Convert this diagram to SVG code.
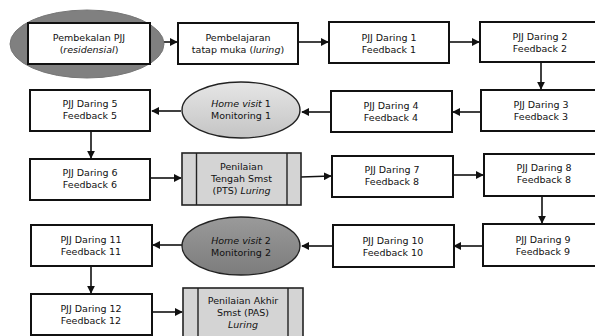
<svg xmlns="http://www.w3.org/2000/svg" width="595" height="336" viewBox="0 0 595 336">
<defs>
<style>
.box{fill:#fff;stroke:#111;stroke-width:2}
.pre{fill:#d4d4d4;stroke:#222;stroke-width:1.6}
.t{font-family:"DejaVu Sans",Verdana,sans-serif;font-size:9.5px;fill:#111;text-anchor:middle}
.i{font-style:italic}
.c{stroke:#111;stroke-width:1.6;fill:none;marker-end:url(#ah)}
</style>
<marker id="ah" viewBox="0 0 10 10" refX="9" refY="5" markerWidth="5" markerHeight="5" orient="auto" markerUnits="strokeWidth">
<path d="M0,0 L10,5 L0,10 z" fill="#111"/>
</marker>
<linearGradient id="g1" x1="0" y1="0" x2="0" y2="1">
<stop offset="0" stop-color="#e6e6e6"/><stop offset="1" stop-color="#c4c4c4"/>
</linearGradient>
<linearGradient id="g2" x1="0" y1="0" x2="0" y2="1">
<stop offset="0" stop-color="#9a9a9a"/><stop offset="1" stop-color="#7c7c7c"/>
</linearGradient>
</defs>

<g id="connectors">
<line class="c" x1="150" y1="42" x2="177" y2="42"/>
<line class="c" x1="298" y1="42" x2="328" y2="42"/>
<line class="c" x1="449" y1="42" x2="479" y2="42"/>
<line class="c" x1="541" y1="62" x2="541" y2="89"/>
<line class="c" x1="481" y1="112" x2="453" y2="112"/>
<line class="c" x1="331" y1="112" x2="302" y2="112"/>
<line class="c" x1="181" y1="111" x2="152" y2="111"/>
<line class="c" x1="91" y1="131" x2="91" y2="158"/>
<line class="c" x1="150" y1="178" x2="181" y2="178"/>
<line class="c" x1="301" y1="177" x2="331" y2="176"/>
<line class="c" x1="454" y1="175" x2="483" y2="175"/>
<line class="c" x1="542" y1="196" x2="542" y2="223"/>
<line class="c" x1="483" y1="246" x2="454" y2="246"/>
<line class="c" x1="333" y1="246" x2="302" y2="246"/>
<line class="c" x1="182" y1="245" x2="153" y2="245"/>
<line class="c" x1="91" y1="266" x2="91" y2="293"/>
<line class="c" x1="152" y1="312" x2="182" y2="312"/>
</g>

<g id="n-pembekalan">
<ellipse cx="87" cy="44" rx="77" ry="34" fill="#808080" stroke="#777" stroke-width="1"/>
<rect class="box" x="28" y="23" width="122" height="41"/>
<text class="t" x="89" y="41">Pembekalan PJJ</text>
<text class="t" x="89" y="53">(<tspan class="i">residensial</tspan>)</text>
</g>

<g id="n-tatap-muka">
<rect class="box" x="178" y="23" width="120" height="41"/>
<text class="t" x="238" y="41">Pembelajaran</text>
<text class="t" x="238" y="53">tatap muka (<tspan class="i">luring</tspan>)</text>
</g>

<g id="n-daring1">
<rect class="box" x="329" y="22" width="120" height="41"/>
<text class="t" x="389" y="41">PJJ Daring 1</text>
<text class="t" x="389" y="53">Feedback 1</text>
</g>

<g id="n-daring2">
<rect class="box" x="480" y="22" width="120" height="40"/>
<text class="t" x="540" y="40">PJJ Daring 2</text>
<text class="t" x="540" y="52">Feedback 2</text>
</g>

<g id="n-daring3">
<rect class="box" x="481" y="90" width="120" height="41"/>
<text class="t" x="541" y="108">PJJ Daring 3</text>
<text class="t" x="541" y="120">Feedback 3</text>
</g>

<g id="n-daring4">
<rect class="box" x="331" y="91" width="121" height="41"/>
<text class="t" x="391" y="109">PJJ Daring 4</text>
<text class="t" x="391" y="121">Feedback 4</text>
</g>

<g id="n-homevisit1">
<ellipse cx="241" cy="110" rx="59" ry="28" fill="url(#g1)" stroke="#222" stroke-width="1.4"/>
<text class="t" x="241" y="107"><tspan class="i">Home visit</tspan> 1</text>
<text class="t" x="241" y="119">Monitoring 1</text>
</g>

<g id="n-daring5">
<rect class="box" x="30" y="90" width="120" height="41"/>
<text class="t" x="90" y="107">PJJ Daring 5</text>
<text class="t" x="90" y="119">Feedback 5</text>
</g>

<g id="n-daring6">
<rect class="box" x="30" y="159" width="120" height="41"/>
<text class="t" x="90" y="176">PJJ Daring 6</text>
<text class="t" x="90" y="188">Feedback 6</text>
</g>

<g id="n-pts">
<rect class="pre" x="182" y="153" width="119" height="52"/>
<line x1="196.5" y1="153" x2="196.5" y2="205" stroke="#222" stroke-width="1.4"/>
<line x1="287" y1="153" x2="287" y2="205" stroke="#222" stroke-width="1.4"/>
<text class="t" x="241.5" y="170">Penilaian</text>
<text class="t" x="241.5" y="182">Tengah Smst</text>
<text class="t" x="241.5" y="194">(PTS) <tspan class="i">Luring</tspan></text>
</g>

<g id="n-daring7">
<rect class="box" x="332" y="156" width="121" height="41"/>
<text class="t" x="392" y="173">PJJ Daring 7</text>
<text class="t" x="392" y="185">Feedback 8</text>
</g>

<g id="n-daring8">
<rect class="box" x="484" y="154" width="120" height="42"/>
<text class="t" x="544" y="171">PJJ Daring 8</text>
<text class="t" x="544" y="183">Feedback 8</text>
</g>

<g id="n-daring9">
<rect class="box" x="483" y="224" width="120" height="42"/>
<text class="t" x="543" y="243">PJJ Daring 9</text>
<text class="t" x="543" y="255">Feedback 9</text>
</g>

<g id="n-daring10">
<rect class="box" x="333" y="225" width="121" height="42"/>
<text class="t" x="393" y="244">PJJ Daring 10</text>
<text class="t" x="393" y="256">Feedback 10</text>
</g>

<g id="n-homevisit2">
<ellipse cx="241" cy="246" rx="59" ry="29" fill="url(#g2)" stroke="#222" stroke-width="1.4"/>
<text class="t" x="241" y="244"><tspan class="i">Home visit</tspan> 2</text>
<text class="t" x="241" y="256">Monitoring 2</text>
</g>

<g id="n-daring11">
<rect class="box" x="31" y="225" width="121" height="41"/>
<text class="t" x="91" y="243">PJJ Daring 11</text>
<text class="t" x="91" y="255">Feedback 11</text>
</g>

<g id="n-daring12">
<rect class="box" x="31" y="294" width="121" height="41"/>
<text class="t" x="91" y="312">PJJ Daring 12</text>
<text class="t" x="91" y="324">Feedback 12</text>
</g>

<g id="n-pas">
<rect class="pre" x="183" y="288" width="120" height="52"/>
<line x1="198" y1="288" x2="198" y2="340" stroke="#222" stroke-width="1.4"/>
<line x1="288" y1="288" x2="288" y2="340" stroke="#222" stroke-width="1.4"/>
<text class="t" x="243" y="304">Penilaian Akhir</text>
<text class="t" x="243" y="316">Smst (PAS)</text>
<text class="t" x="243" y="328"><tspan class="i">Luring</tspan></text>
</g>
</svg>
